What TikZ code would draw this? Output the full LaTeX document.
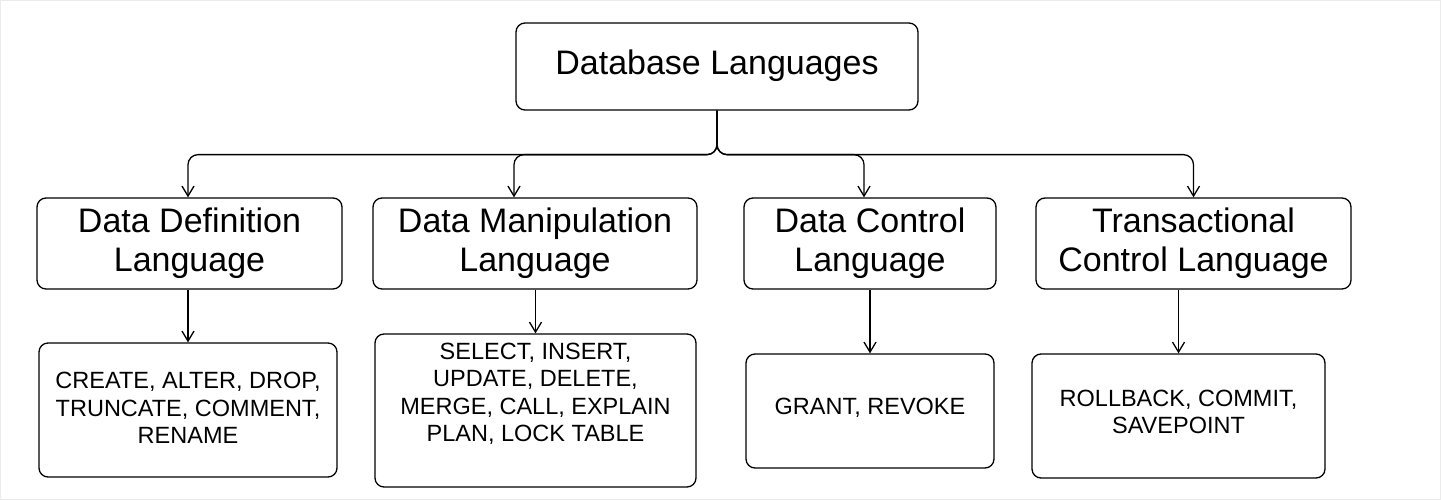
\documentclass[tikz,border=0pt]{standalone}
\usepackage{fontspec}
\setmainfont{Liberation Sans}
\usetikzlibrary{arrows.meta}

\begin{document}
\begin{tikzpicture}[x=1pt,y=-1pt,color=black,every path/.append style={line width=1.3pt},
	box/.style={draw,rounded corners=9pt,inner sep=0pt},
	big/.style={align=center,font=\fontsize{34}{39}\selectfont},
	small/.style={align=center,font=\fontsize{23.5}{27.5}\selectfont},
	arr/.style={-{Straight Barb[length=10pt,width=12pt]}}]
\useasboundingbox (0,0) rectangle (1441,500);
\draw[black!8,line width=1pt] (0.5,0.5) rectangle (1440.5,499.5);
% boxes
\node[box,minimum width=402,minimum height=87] (db) at (717,66.5) {};
\node[box,minimum width=305,minimum height=91] (ddl) at (189.5,243.5) {};
\node[box,minimum width=324,minimum height=91] (dml) at (535,243.5) {};
\node[box,minimum width=252,minimum height=91] (dcl) at (870,243.5) {};
\node[box,minimum width=315,minimum height=91] (tcl) at (1193.5,243.5) {};
\node[box,minimum width=298,minimum height=134] (ddlops) at (188,410) {};
\node[box,minimum width=321,minimum height=153] (dmlops) at (535.5,410.5) {};
\node[box,minimum width=248,minimum height=114] (dclops) at (870,411) {};
\node[box,minimum width=293,minimum height=124] (tclops) at (1178.5,416) {};
% texts
\node[big] (dbtext) at (717,66) {Database Languages};
\node[big] (ddltext) at (189.5,243.5) {Data Definition\\Language};
\node[big] (dmltext) at (535,243.5) {Data Manipulation\\Language};
\node[big] (dcltext) at (870,243.5) {Data Control\\Language};
\node[big] (tcltext) at (1193.5,243.5) {Transactional\\Control Language};
\node[small] (ddlopstext) at (188,408) {CREATE, ALTER, DROP,\\TRUNCATE, COMMENT,\\RENAME};
\node[small] (dmlopstext) at (535.5,394) {SELECT, INSERT,\\UPDATE, DELETE,\\MERGE, CALL, EXPLAIN\\PLAN, LOCK TABLE};
\node[small] (dclopstext) at (870,408) {GRANT, REVOKE};
\node[small] (tclopstext) at (1178.5,412) {ROLLBACK, COMMIT,\\SAVEPOINT};
% tree
\draw[arr,rounded corners=10pt] (db.south) -- ++(0,44) -| ([xshift=-1.5pt]ddl.north);
\draw[arr,rounded corners=10pt] (db.south) -- ++(0,44) -| ([xshift=-21pt]dml.north);
\draw[arr,rounded corners=10pt] (db.south) -- ++(0,44) -| ([xshift=-6pt]dcl.north);
\draw[arr,rounded corners=10pt] (db.south) -- ++(0,44) -| (tcl.north);
\foreach \c in {ddl,dml,dcl,tcl} {
	\draw[arr] (\c ops.north |- \c.south) -- (\c ops.north);
}
\end{tikzpicture}
\end{document}
